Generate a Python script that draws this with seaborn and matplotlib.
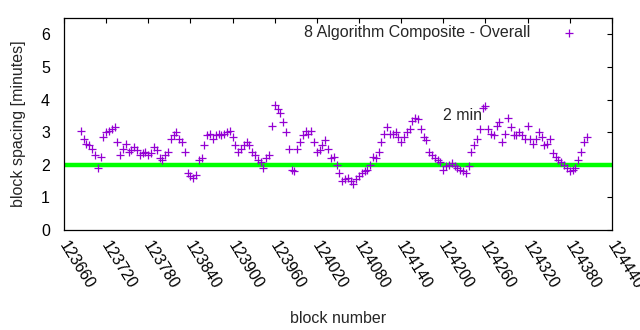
import numpy as np
import pandas as pd
import matplotlib
matplotlib.use("Agg")
import matplotlib.pyplot as plt
import matplotlib.transforms as mtransforms
import seaborn as sns

# block numbers (every 4 blocks) and block spacing in minutes
block_start = 123684
block_step = 4
spacing = [
    3.05, 2.8, 2.65, 2.6, 2.5, 2.3, 1.9, 2.25, 2.85, 3.0,
    3.05, 3.1, 3.15, 2.7, 2.3, 2.5, 2.65, 2.4, 2.45, 2.55,
    2.45, 2.3, 2.35, 2.4, 2.3, 2.35, 2.55, 2.45, 2.2, 2.15,
    2.3, 2.4, 2.8, 2.9, 3.0, 2.8, 2.7, 2.4, 1.75, 1.65,
    1.6, 1.7, 2.15, 2.2, 2.6, 2.9, 2.95, 2.8, 2.9, 2.95,
    2.9, 2.95, 3.0, 3.05, 2.85, 2.6, 2.4, 2.5, 2.6, 2.7,
    2.6, 2.4, 2.3, 2.15, 2.1, 1.9, 2.2, 2.3, 3.2, 3.85,
    3.7, 3.6, 3.3, 3.0, 2.5, 1.85, 1.8, 2.5, 2.7, 2.9,
    3.05, 2.95, 3.05, 2.7, 2.4, 2.45, 2.6, 2.75, 2.5, 2.2,
    2.25, 2.0, 1.75, 1.5, 1.55, 1.6, 1.5, 1.4, 1.55, 1.65,
    1.75, 1.8, 1.85, 2.0, 2.25, 2.2, 2.4, 2.7, 2.95, 3.15,
    2.95, 2.95, 3.0, 2.85, 2.7, 2.85, 3.0, 3.1, 3.35, 3.45,
    3.4, 3.1, 2.85, 2.75, 2.4, 2.3, 2.2, 2.15, 2.1, 1.85,
    1.95, 2.0, 2.05, 1.95, 1.9, 1.85, 1.8, 1.75, 1.95, 2.4,
    2.6, 2.8, 3.1, 3.75, 3.8, 3.1, 2.95, 2.9, 3.2, 3.3,
    2.7, 2.95, 3.45, 3.15, 2.9, 2.9, 3.0, 2.9, 2.8, 3.2,
    2.8, 2.65, 2.8, 3.0, 2.85, 2.6, 2.65, 2.8, 2.35, 2.25,
    2.15, 2.1, 2.0, 1.9, 1.8, 1.85, 1.9, 2.15, 2.4, 2.7,
    2.85,
]
blocks = [block_start + block_step * i for i in range(len(spacing))]

x_ticks = list(range(123660, 124441, 60))
y_ticks = [0, 1, 2, 3, 4, 5, 6]
target_minutes = 2
series_label = "8 Algorithm Composite - Overall"
annotation = "2 min"

df = pd.DataFrame({"block": blocks, "spacing": spacing})

sns.set_theme(style="white")
plt.rcParams["font.family"] = ["Liberation Sans", "DejaVu Sans"]

fig = plt.figure(figsize=(6.4, 3.3), dpi=100)
ax = fig.add_axes([0.1, 0.303, 0.856, 0.642])

ax.axhline(target_minutes, color="#00ff00", lw=3.2, zorder=1)
sns.scatterplot(data=df, x="block", y="spacing", marker="+", color="#9400d3",
                s=34, linewidth=0.9, ax=ax, label=series_label, zorder=3)

ax.set_xlim(123660, 124440)
ax.set_ylim(0, 6.5)
ax.set_xticks(x_ticks)
ax.set_yticks(y_ticks)
ax.set_xticklabels([str(t) for t in x_ticks], rotation=-58, ha="left",
                   va="top", rotation_mode="anchor")
ax.tick_params(direction="in", length=3.5, width=0.8, top=True, right=True,
               labelsize=11.5, colors="black", pad=6)
ax.tick_params(axis="y", pad=10)
offset = mtransforms.ScaledTranslation(5 / 100, 0, fig.dpi_scale_trans)
for lab in ax.get_xticklabels():
    lab.set_transform(lab.get_transform() + offset)
for sp in ax.spines.values():
    sp.set_color("black")
    sp.set_linewidth(0.9)

ax.set_xlabel("block number", fontsize=11.5, labelpad=14)
ax.set_ylabel("block spacing [minutes]", fontsize=11.5, labelpad=11)

ax.text(124200, 3.5, annotation, fontsize=11.5, ha="left", va="center")

leg = ax.legend(loc="upper right", markerfirst=False, frameon=False,
                fontsize=11.5, handletextpad=1.4, borderaxespad=0.2,
                markerscale=0.9, bbox_to_anchor=(0.968, 1.012))

fig.savefig("out.png", dpi=100)
